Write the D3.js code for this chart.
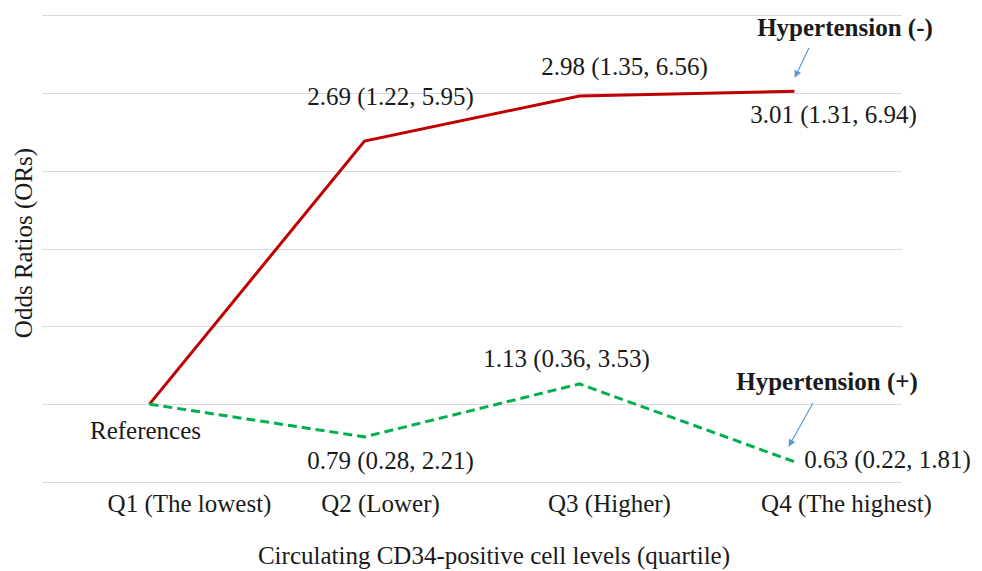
<!doctype html>
<html>
  <head>
    <script src="https://cdnjs.cloudflare.com/ajax/libs/d3/7.8.5/d3.min.js"></script>
    <style>
      body { margin: 0; background: #fff; }
      text { font-family: "Liberation Serif", "Times New Roman", serif; fill: #1a1a1a; }
      .grid line { stroke: #d9d9d9; stroke-width: 1px; }
      .note { font-weight: bold; }
    </style>
  </head>
  <body>
    <svg width="982" height="571"></svg>
    <script>
      var quartiles = ["Q1 (The lowest)", "Q2 (Lower)", "Q3 (Higher)", "Q4 (The highest)"];
      var htnNeg = [1, 2.69, 2.98, 3.01];
      var htnPos = [1, 0.79, 1.13, 0.63];
      var htnNegLabels = ["", "2.69 (1.22, 5.95)", "2.98 (1.35, 6.56)", "3.01 (1.31, 6.94)"];
      var htnPosLabels = ["References", "0.79 (0.28, 2.21)", "1.13 (0.36, 3.53)", "0.63 (0.22, 1.81)"];
      var gridValues = [0.5, 1, 1.5, 2, 2.5, 3, 3.5];

      // label offsets from the point (px)
      var negOffsets = [[0, 0], [26, -45], [45, -30], [39, 23]];
      var posOffsets = [[-4, 26], [26, 23], [-13, -26], [93, -3]];
      // tick labels in the original sit right of the points
      var tickShift = [40, 16, 30, 52];

      var svg = d3.select("svg");
      var mLeft = 42, mRight = 902, mTop = 15, mBottom = 482;
      var fs = "25px";

      var x = d3.scaleBand().domain(quartiles).range([mLeft, mRight]);
      var y = d3.scaleLinear().domain([0.5, 3.5]).range([mBottom, mTop]);
      var cx = d => x(d) + x.bandwidth() / 2;

      svg.append("g").attr("class", "grid")
        .selectAll("line").data(gridValues).enter().append("line")
          .attr("x1", mLeft).attr("x2", mRight)
          .attr("y1", d => Math.round(y(d)) + 0.5).attr("y2", d => Math.round(y(d)) + 0.5);

      svg.append("g").attr("transform", `translate(0,${mBottom})`)
        .call(d3.axisBottom(x).tickSize(0).tickPadding(12))
        .call(g => g.select(".domain").remove())
        .selectAll("text")
          .attr("dx", (d, i) => tickShift[i])
          .style("font-family", '"Liberation Serif", serif')
          .style("font-size", fs).style("fill", "#1a1a1a");

      var line = d3.line().x((d, i) => cx(quartiles[i])).y(d => y(d));

      svg.append("path").datum(htnNeg)
        .attr("d", line).attr("fill", "none")
        .attr("stroke", "#c00000").attr("stroke-width", 3);

      svg.append("path").datum(htnPos)
        .attr("d", line).attr("fill", "none")
        .attr("stroke", "#00b050").attr("stroke-width", 3)
        .attr("stroke-dasharray", "9,5");

      svg.append("g").selectAll("text").data(htnNegLabels).enter().append("text")
        .attr("x", (d, i) => cx(quartiles[i]) + negOffsets[i][0])
        .attr("y", (d, i) => y(htnNeg[i]) + negOffsets[i][1])
        .attr("text-anchor", "middle").attr("dy", "0.35em")
        .style("font-size", fs)
        .text(d => d);

      svg.append("g").selectAll("text").data(htnPosLabels).enter().append("text")
        .attr("x", (d, i) => cx(quartiles[i]) + posOffsets[i][0])
        .attr("y", (d, i) => y(htnPos[i]) + posOffsets[i][1])
        .attr("text-anchor", "middle").attr("dy", "0.35em")
        .style("font-size", fs)
        .text(d => d);

      // annotations
      svg.append("defs").append("marker")
        .attr("id", "arr").attr("viewBox", "0 0 10 10")
        .attr("refX", 9).attr("refY", 5)
        .attr("markerWidth", 6).attr("markerHeight", 6)
        .attr("orient", "auto")
        .append("path").attr("d", "M0,0L10,5L0,10z").attr("fill", "#5b9bd5");

      svg.append("text").attr("class", "note")
        .attr("x", 845).attr("y", 27).attr("text-anchor", "middle")
        .attr("dy", "0.35em").style("font-size", fs)
        .text("Hypertension (-)");
      svg.append("line")
        .attr("x1", 809).attr("y1", 48).attr("x2", 795).attr("y2", 77)
        .attr("stroke", "#5b9bd5").attr("stroke-width", 1.2)
        .attr("marker-end", "url(#arr)");

      svg.append("text").attr("class", "note")
        .attr("x", 827).attr("y", 381).attr("text-anchor", "middle")
        .attr("dy", "0.35em").style("font-size", fs)
        .text("Hypertension (+)");
      svg.append("line")
        .attr("x1", 813).attr("y1", 403).attr("x2", 789).attr("y2", 446)
        .attr("stroke", "#5b9bd5").attr("stroke-width", 1.2)
        .attr("marker-end", "url(#arr)");

      svg.append("text")
        .attr("transform", "translate(23,243) rotate(-90)")
        .attr("text-anchor", "middle").attr("dy", "0.35em")
        .style("font-size", fs)
        .text("Odds Ratios (ORs)");

      svg.append("text")
        .attr("x", 494).attr("y", 555)
        .attr("text-anchor", "middle").attr("dy", "0.35em")
        .style("font-size", fs)
        .text("Circulating CD34-positive cell levels (quartile)");
    </script>
  </body>
</html>
